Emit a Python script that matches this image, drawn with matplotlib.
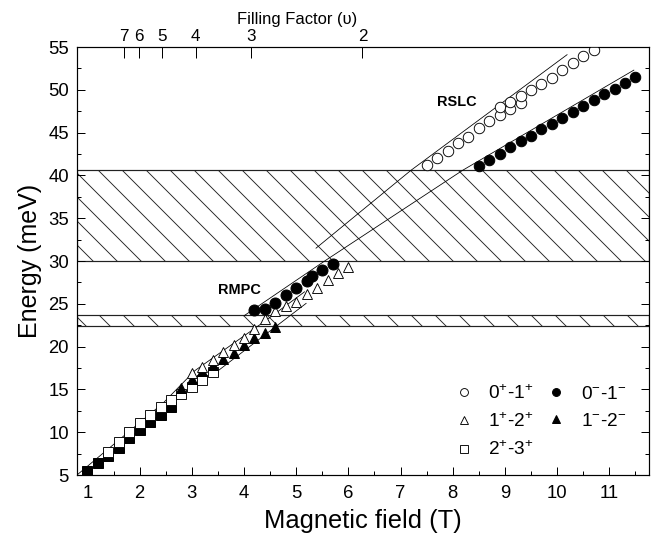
import matplotlib
matplotlib.use("Agg")
import matplotlib.pyplot as plt

plt.rcParams['font.family'] = ['Liberation Sans', 'DejaVu Sans']
plt.rcParams['mathtext.fontset'] = 'custom'
plt.rcParams['mathtext.rm'] = 'Liberation Sans'
plt.rcParams['mathtext.it'] = 'Liberation Sans:italic'
plt.rcParams['hatch.linewidth'] = 0.9

# transitions measured vs magnetic field (T) -> energy (meV)
B_01p = [7.5, 7.7, 7.9, 8.1, 8.3, 8.5, 8.7, 8.9, 8.9, 9.1, 9.1, 9.3, 9.3,
         9.5, 9.7, 9.9, 10.1, 10.3, 10.5, 10.7]
E_01p = [41.2, 42.0, 42.9, 43.8, 44.5, 45.5, 46.3, 47.1, 48.0, 47.7, 48.6,
         48.45, 49.3, 50.0, 50.7, 51.4, 52.3, 53.1, 53.9, 54.6]

B_01m_low = [4.2, 4.4, 4.6, 4.8, 5.0, 5.2, 5.3, 5.5, 5.7]
E_01m_low = [24.3, 24.4, 25.1, 26.0, 26.9, 27.7, 28.2, 28.9, 29.7]
B_01m_high = [8.5, 8.7, 8.9, 9.1, 9.3, 9.5, 9.7, 9.9, 10.1, 10.3, 10.5,
              10.7, 10.9, 11.1, 11.3, 11.5]
E_01m_high = [41.1, 41.8, 42.5, 43.3, 44.0, 44.6, 45.4, 46.0, 46.7, 47.4,
              48.1, 48.8, 49.5, 50.1, 50.8, 51.5]

B_12p = [3.0, 3.2, 3.4, 3.6, 3.8, 4.0, 4.2, 4.4, 4.6, 4.8, 5.0, 5.2, 5.4,
         5.6, 5.8, 6.0]
E_12p = [16.9, 17.6, 18.4, 19.4, 20.2, 21.0, 22.0, 23.2, 24.2, 24.7, 25.2,
         26.1, 26.9, 27.8, 28.6, 29.35]

B_12m = [2.8, 3.0, 3.2, 3.4, 3.6, 3.8, 4.0, 4.2, 4.4, 4.6]
E_12m = [15.2, 16.2, 17.1, 17.8, 18.5, 19.3, 20.2, 21.0, 21.6, 22.3]

B_23p = [1.4, 1.6, 1.8, 2.0, 2.2, 2.4, 2.6, 2.8, 3.0, 3.2, 3.4]
E_23p = [7.7, 8.9, 10.0, 11.1, 12.0, 12.9, 13.8, 14.5, 15.3, 16.1, 17.0]

B_23m = [1.0, 1.2, 1.4, 1.6, 1.8, 2.0, 2.2, 2.4, 2.6]
E_23m = [5.5, 6.4, 7.2, 8.2, 9.3, 10.3, 11.2, 12.0, 13.0]

# calculated transition curves
calc_curves = [
    ([0.78, 2.45, 3.06, 4.43, 5.16], [4.9, 13.4, 17.2, 23.1, 26.4]),
    ([3.40, 5.19], [16.7, 25.05]),
    ([4.0, 5.57, 8.19, 11.47], [23.6, 30.1, 40.6, 52.3]),
    ([5.38, 7.2, 10.19], [31.5, 40.6, 54.1]),
]

# hatched energy bands (meV)
bands = [(22.4, 23.75), (30.0, 40.6)]

# filling factor positions on the field axis
nu_labels = ['7', '6', '5', '4', '3', '2']
nu_B = [1.70, 1.99, 2.43, 3.075, 4.14, 6.27]

fig = plt.figure(figsize=(656 / 72, 541 / 72), dpi=72)
ax = fig.add_axes([77 / 656, 66 / 541, 572 / 656, 428 / 541])

for lo, hi in bands:
    ax.axhspan(lo, hi, facecolor='white', edgecolor='#222222', hatch='\\',
               linewidth=1.2, zorder=1)

for bx, ey in calc_curves:
    ax.plot(bx, ey, color='black', linewidth=0.8, zorder=2)

ms = 10.5
ax.plot(B_23m, E_23m, 's', color='black', ms=ms - 1, zorder=3)
ax.plot(B_23p, E_23p, 's', mfc='white', mec='black', mew=0.9, ms=ms - 1,
        zorder=3, label='2$^{+}$-3$^{+}$')
ax.plot(B_12m, E_12m, '^', color='black', ms=ms, zorder=3, label='1$^{-}$-2$^{-}$')
ax.plot(B_12p, E_12p, '^', mfc='white', mec='black', mew=0.9, ms=ms,
        zorder=3, label='1$^{+}$-2$^{+}$')
ax.plot(B_01m_low, E_01m_low, 'o', color='black', ms=ms + 0.5, zorder=3)
ax.plot(B_01m_high, E_01m_high, 'o', color='black', ms=ms, zorder=3,
        label='0$^{-}$-1$^{-}$')
ax.plot(B_01p, E_01p, 'o', mfc='white', mec='black', mew=0.9, ms=ms,
        zorder=3, label='0$^{+}$-1$^{+}$')

ax.text(8.07, 48.6, 'RSLC', fontsize=14.5, fontweight='bold', ha='center',
        va='center')
ax.text(3.92, 26.6, 'RMPC', fontsize=14.5, fontweight='bold', ha='center',
        va='center')

ax.set_xticks(range(1, 12))
ax.set_xticks([x + 0.5 for x in range(1, 12)], minor=True)
ax.set_yticks(range(5, 56, 5))
ax.set_yticks([y + 2.5 for y in range(5, 55, 5)], minor=True)
ax.set_xlim(0.8, 11.76)
ax.set_ylim(5, 55)
ax.tick_params(which='both', direction='in', top=True, right=True,
               width=1.0, labelsize=18.5)
ax.tick_params(which='major', length=8)
ax.tick_params(which='minor', length=4)
ax.tick_params(axis='x', pad=10)
ax.tick_params(axis='y', pad=8)
for s in ax.spines.values():
    s.set_linewidth(1.2)

ax.set_xlabel('Magnetic field (T)', fontsize=25.5, labelpad=7)
ax.set_ylabel('Energy (meV)', fontsize=25, labelpad=6)

handles, labels = ax.get_legend_handles_labels()
order = ['0$^{+}$-1$^{+}$', '1$^{+}$-2$^{+}$', '2$^{+}$-3$^{+}$',
         '0$^{-}$-1$^{-}$', '1$^{-}$-2$^{-}$']
hmap = dict(zip(labels, handles))
ax.legend([hmap[k] for k in order], order, ncol=2, loc='lower right',
          bbox_to_anchor=(0.99, -0.003), frameon=False, fontsize=19,
          markerscale=0.75, handlelength=1.0, handletextpad=0.8,
          columnspacing=0.7, labelspacing=0.5)

top = ax.twiny()
top.set_xlim(ax.get_xlim())
top.set_xticks(nu_B)
top.set_xticklabels(nu_labels)
top.set_xlim(ax.get_xlim())
top.tick_params(direction='in', length=11, width=1.0, labelsize=17, pad=3)
top.set_xlabel('Filling Factor (\u03c5)', fontsize=16.5, labelpad=5)
top.xaxis.label.set_x(0.385)

fig.savefig('out.png', dpi=72)
